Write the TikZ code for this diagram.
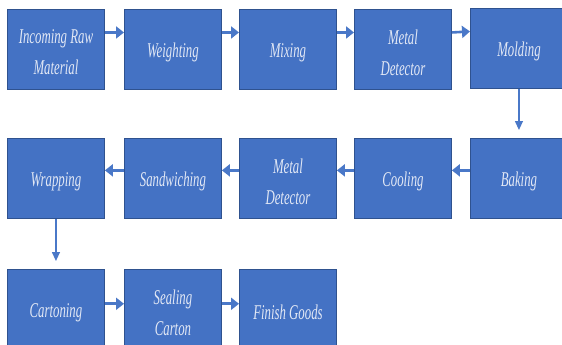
\documentclass[tikz,border=0pt]{standalone}
\usepackage{fontspec}
\newfontfamily\boxfont{Liberation Serif}[FakeStretch=0.61]
\usetikzlibrary{arrows.meta,calc}
\definecolor{boxblue}{HTML}{4472C4}
\definecolor{boxedge}{HTML}{2F528F}
\definecolor{boxtext}{HTML}{E2E8F5}
\definecolor{arrblue}{HTML}{4A78C8}
\tikzset{
  procbox/.style={draw=boxedge, line width=0.9pt, fill=boxblue, minimum width=97pt, minimum height=80pt,
    anchor=north west, inner sep=0pt},
  lbl/.style={align=center, text=boxtext, inner sep=0pt, yshift=-3pt,
    font=\boxfont\itshape\fontsize{21}{31}\selectfont},
  harrow/.style={draw=arrblue, line width=2.6pt, -{Triangle[length=8pt,width=12pt]}},
  varrow/.style={draw=arrblue, line width=1.2pt, -{Triangle[length=9pt,width=8pt]}, shorten >=8pt}
}
\begin{document}
\begin{tikzpicture}[x=1pt,y=-1pt]
\useasboundingbox (0,0) rectangle (562,345);
\fill[white] (0,0) rectangle (562,345);
% row 1
\node[procbox, label={[lbl, name=ta1]center:{Incoming Raw\\Material}}] (a1) at (7,9) {};
\node[procbox, label={[lbl, name=ta2]center:Weighting}] (a2) at (124,9) {};
\node[procbox, label={[lbl, name=ta3]center:Mixing}] (a3) at (239,9) {};
\node[procbox, label={[lbl, name=ta4]center:{Metal\\Detector}}] (a4) at (354,9) {};
\node[procbox, label={[lbl, name=ta5]center:Molding}] (a5) at (470,8) {};
% row 2
\node[procbox, label={[lbl, name=tb1]center:Wrapping}] (b1) at (7,138) {};
\node[procbox, label={[lbl, name=tb2]center:Sandwiching}] (b2) at (124,138) {};
\node[procbox, label={[lbl, name=tb3]center:{Metal\\Detector}}] (b3) at (239,138) {};
\node[procbox, label={[lbl, name=tb4]center:Cooling}] (b4) at (354,138) {};
\node[procbox, label={[lbl, name=tb5]center:Baking}] (b5) at (470,138) {};
% row 3
\node[procbox, label={[lbl, name=tc1]center:Cartoning}] (c1) at (7,269) {};
\node[procbox, label={[lbl, name=tc2]center:{Sealing\\Carton}}] (c2) at (124,269) {};
\node[procbox, label={[lbl, name=tc3]center:Finish Goods}] (c3) at (239,269) {};
% arrows row 1
\foreach \s/\t in {a1/a2,a2/a3,a3/a4,a4/a5}
  \draw[harrow] ($(\s.north east)!0.29!(\s.south east)$) -- ($(\t.north west)!0.29!(\t.south west)$);
% arrows row 2
\foreach \s/\t in {b5/b4,b4/b3,b3/b2,b2/b1}
  \draw[harrow] ($(\s.north west)!0.4!(\s.south west)$) -- ($(\t.north east)!0.4!(\t.south east)$);
% arrows row 3
\foreach \s/\t in {c1/c2,c2/c3}
  \draw[harrow] ($(\s.north east)!0.43!(\s.south east)$) -- ($(\t.north west)!0.43!(\t.south west)$);
% vertical
\draw[varrow] (a5.south) -- (b5.north);
\draw[varrow] (b1.south) -- (c1.north);
\end{tikzpicture}
\end{document}
